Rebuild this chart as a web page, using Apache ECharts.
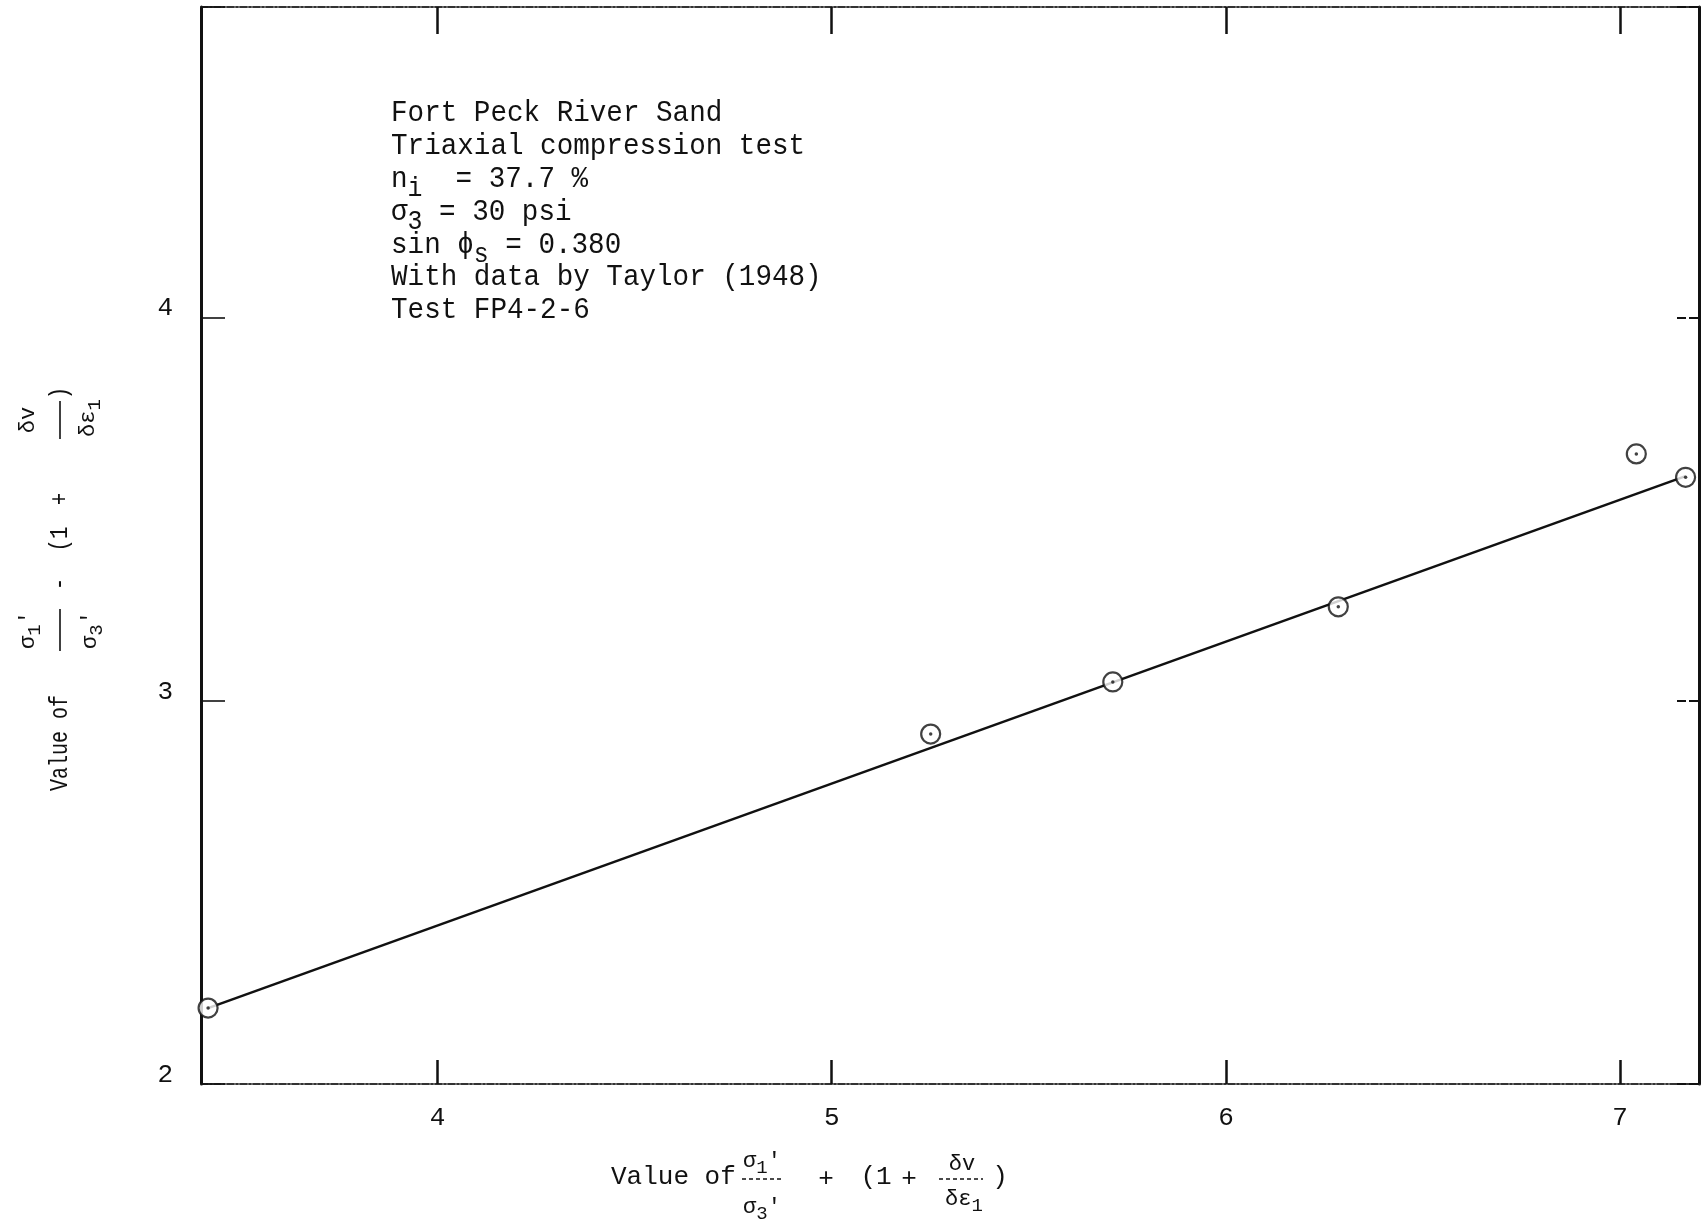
<!DOCTYPE html>
<html>
<head>
<meta charset="utf-8">
<script src="https://cdn.jsdelivr.net/npm/echarts@6/dist/echarts.min.js"></script>
<style>
  html, body { margin: 0; padding: 0; background: #ffffff; }
  #chart { width: 1704px; height: 1224px; }
</style>
</head>
<body>
<div id="chart"></div>
<script>
// Axis ranges and tick values
const xRange = [3.4, 7.2];
const yRange = [2, 4.81];
const xTickValues = [4, 5, 6, 7];
const yTickValues = [2, 3, 4];

// Measured test points (Fort Peck River Sand, test FP4-2-6)
const testX = [3.418, 5.251, 5.713, 6.285, 7.041, 7.166];
const testY = [2.198, 2.913, 3.049, 3.245, 3.644, 3.583];

// Fitted straight line through the points
const fitX = [3.418, 7.166];
const fitY = [2.198, 3.586];

// Annotation block
const noteLines = [
  'Fort Peck River Sand',
  'Triaxial compression test',
  'n{sub|i}  = 37.7 %',
  'σ{sub|3} = 30 psi',
  'sin ϕ{sub|s} = 0.380',
  'With data by Taylor (1948)',
  'Test FP4-2-6'
];

const MONO = "'Liberation Mono', 'DejaVu Sans Mono', monospace";
const INK = '#111111';

const points = testX.map((x, i) => [x, testY[i]]);
const fitLine = fitX.map((x, i) => [x, fitY[i]]);

// Text piece of a typed formula; sx squeezes the glyphs horizontally
function txt(text, x, y, size, extra, sx) {
  return {
    type: 'text', x: x, y: y, silent: true, scaleX: sx || 1,
    style: Object.assign({
      text: text, fontFamily: MONO, fontSize: size, fill: INK,
      align: 'center', verticalAlign: 'middle',
      rich: {
        sub: { fontFamily: MONO, fontSize: size - 3, fill: INK, padding: [14, 0, 0, 0] }
      }
    }, extra || {})
  };
}
function bar(x1, x2, y, dashed) {
  return {
    type: 'line', silent: true,
    shape: { x1: x1, y1: y, x2: x2, y2: y },
    style: { stroke: INK, lineWidth: 1.6, lineDash: dashed ? [4, 3] : null }
  };
}

const chart = echarts.init(document.getElementById('chart'), null, { renderer: 'canvas' });

const intLabel = v => (xTickValues.indexOf(v) >= 0 || yTickValues.indexOf(v) >= 0) ? String(v) : '';

chart.setOption({
  backgroundColor: '#ffffff',
  animation: false,
  grid: { left: 201, right: 5, top: 7, bottom: 140, containLabel: false },
  xAxis: [
    {
      type: 'value', position: 'bottom', min: xRange[0], max: xRange[1],
      minInterval: 1, maxInterval: 1,
      axisLine: { show: true, lineStyle: { color: '#333', width: 2, type: [7, 2, 2, 2] } },
      axisTick: { show: true, inside: true, length: 24, lineStyle: { color: INK, width: 2.5 } },
      axisLabel: { formatter: intLabel, margin: 21, fontFamily: MONO, fontSize: 26, color: INK },
      splitLine: { show: false }
    },
    {
      type: 'value', position: 'top', min: xRange[0], max: xRange[1],
      minInterval: 1, maxInterval: 1,
      axisLine: { show: true, lineStyle: { color: '#333', width: 2, type: [7, 2, 2, 2] } },
      axisTick: { show: true, inside: true, length: 27, lineStyle: { color: INK, width: 2.5 } },
      axisLabel: { show: false },
      splitLine: { show: false }
    }
  ],
  yAxis: [
    {
      type: 'value', position: 'left', min: yRange[0], max: yRange[1], interval: 1,
      axisLine: { show: true, lineStyle: { color: INK, width: 3 } },
      axisTick: { show: true, inside: true, length: 24, lineStyle: { color: INK, width: 1.6 } },
      axisLabel: { formatter: intLabel, margin: 28, fontFamily: MONO, fontSize: 26, color: INK,
                   verticalAlign: 'bottom', lineHeight: 18 },
      splitLine: { show: false }
    },
    {
      type: 'value', position: 'right', min: yRange[0], max: yRange[1], interval: 1,
      axisLine: { show: true, lineStyle: { color: INK, width: 3 } },
      axisTick: { show: true, inside: true, length: 22, lineStyle: { color: INK, width: 2, type: [10, 3] } },
      axisLabel: { show: false },
      splitLine: { show: false }
    }
  ],
  series: [
    {
      name: 'fit', type: 'line', data: fitLine, showSymbol: false, symbol: 'none',
      lineStyle: { color: INK, width: 2.6 }, z: 2, silent: true
    },
    {
      name: 'tests', type: 'scatter', data: points, symbol: 'circle', symbolSize: 19,
      itemStyle: { color: '#ffffff', borderColor: INK, borderWidth: 2.2 }, z: 3, silent: true
    },
    {
      name: 'centres', type: 'scatter', data: points, symbol: 'circle', symbolSize: 3.5,
      itemStyle: { color: INK }, z: 4, silent: true
    }
  ],
  graphic: [
    // annotation block
    {
      type: 'text', x: 391, y: 97, scaleX: 0.92, silent: true,
      style: {
        text: noteLines.join('\n'), fontFamily: MONO, fontSize: 30, fill: INK, lineHeight: 32.8,
        align: 'left', verticalAlign: 'top',
        rich: {
          sub: { fontFamily: MONO, fontSize: 27, fill: INK, lineHeight: 32.8, padding: [20, 0, 0, 0] }
        }
      }
    },
    // x-axis title
    {
      type: 'group', x: 611, y: 1177, silent: true,
      children: [
        txt('Value of', 0, 0, 26, { align: 'left' }),
        bar(131, 171, 2, true),
        txt("σ{sub|1}'", 151, -16, 22),
        txt("σ{sub|3}'", 151, 30, 22),
        txt('+', 215, 2, 26),
        txt('(1', 265, 0, 26),
        txt('+', 298, 2, 26),
        bar(328, 372, 2, true),
        txt('δv', 351, -13, 22),
        txt('δε{sub|1}', 353, 22, 22),
        txt(')', 389, 0, 26)
      ]
    },
    // y-axis title, reading upward
    {
      type: 'group', x: 60, y: 791, rotation: Math.PI / 2, silent: true,
      children: [
        txt('Value of', 0, 0, 26, { align: 'left' }, 0.77),
        bar(140, 182, 0, false),
        txt("σ{sub|1}'", 161, -32, 22),
        txt("σ{sub|3}'", 161, 30, 22),
        txt('-', 207, 0, 26, null, 0.8),
        txt('(1', 252, 0, 26, null, 0.8),
        txt('+', 292, 0, 26, null, 0.8),
        bar(352, 390, 0, false),
        txt('δv', 371, -32, 22),
        txt('δε{sub|1}', 373, 28, 22),
        txt(')', 398, 0, 26, null, 0.8)
      ]
    }
  ]
});
</script>
</body>
</html>
